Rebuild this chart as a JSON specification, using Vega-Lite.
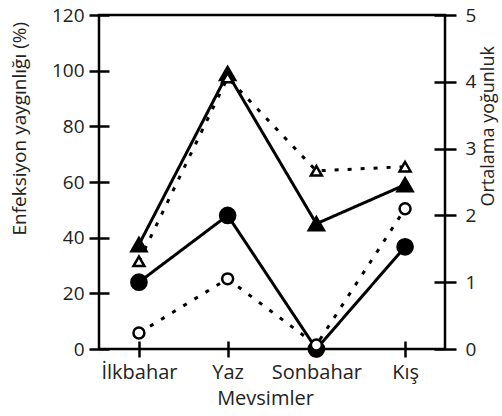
{
  "$schema": "https://vega.github.io/schema/vega-lite/v6.json",
  "width": 346,
  "height": 334,
  "autosize": {"type": "none"},
  "padding": {"left": 99, "top": 15, "right": 57, "bottom": 67},
  "background": "white",
  "config": {
    "view": {"stroke": "black", "strokeWidth": 2.5},
    "font": "Open Sans",
    "axis": {
      "grid": false, "domain": false, "tickColor": "black", "tickWidth": 2.5,
      "labelColor": "#222", "labelFontSize": 19, "labelFont": "Open Sans",
      "titleFontSize": 19, "titleFontWeight": "normal", "titleColor": "#222", "titleFont": "Open Sans"
    }
  },
  "data": {
    "values": [
      {"season": "İlkbahar", "kind": "p", "fill": "dolu", "value": 37.5},
      {"season": "Yaz", "kind": "p", "fill": "dolu", "value": 99},
      {"season": "Sonbahar", "kind": "p", "fill": "dolu", "value": 45},
      {"season": "Kış", "kind": "p", "fill": "dolu", "value": 59},
      {"season": "İlkbahar", "kind": "p", "fill": "boş", "value": 31.5},
      {"season": "Yaz", "kind": "p", "fill": "boş", "value": 97.5},
      {"season": "Sonbahar", "kind": "p", "fill": "boş", "value": 64},
      {"season": "Kış", "kind": "p", "fill": "boş", "value": 65.5},
      {"season": "İlkbahar", "kind": "d", "fill": "dolu", "value": 1.0},
      {"season": "Yaz", "kind": "d", "fill": "dolu", "value": 2.0},
      {"season": "Sonbahar", "kind": "d", "fill": "dolu", "value": 0},
      {"season": "Kış", "kind": "d", "fill": "dolu", "value": 1.53},
      {"season": "İlkbahar", "kind": "d", "fill": "boş", "value": 0.24},
      {"season": "Yaz", "kind": "d", "fill": "boş", "value": 1.05},
      {"season": "Sonbahar", "kind": "d", "fill": "boş", "value": 0.06},
      {"season": "Kış", "kind": "d", "fill": "boş", "value": 2.1}
    ]
  },
  "encoding": {
    "x": {
      "field": "season", "type": "ordinal",
      "sort": ["İlkbahar", "Yaz", "Sonbahar", "Kış"],
      "scale": {"type": "point", "padding": 0.45},
      "axis": {
        "labelAngle": 0, "labelFontSize": 20, "tickSize": 16, "offset": -8, "labelPadding": 5,
        "title": "Mevsimler", "titleFontSize": 20, "titleX": 166, "titleY": 47, "titleBaseline": "top", "titleAlign": "center"
      }
    }
  },
  "layer": [
    {
      "transform": [{"filter": "datum.kind === 'p'"}],
      "encoding": {
        "y": {
          "field": "value", "type": "quantitative",
          "scale": {"domain": [0, 120]},
          "axis": {
            "orient": "left", "values": [0, 20, 40, 60, 80, 100, 120],
            "tickSize": 20, "offset": -10, "labelPadding": 5,
            "title": "Enfeksiyon yaygınlığı (%)", "titleAngle": 270, "titleAlign": "left",
            "titleBaseline": "middle", "titleX": -90, "titleY": 220
          }
        }
      },
      "layer": [
        {
          "mark": {"type": "line", "color": "black", "strokeWidth": 3},
          "encoding": {
            "detail": {"field": "fill"},
            "strokeDash": {"field": "fill", "type": "nominal", "scale": {"domain": ["dolu", "boş"], "range": [[1, 0], [4, 9]]}, "legend": null}
          }
        },
        {
          "mark": {"type": "point", "shape": "triangle-up", "filled": true, "opacity": 1, "stroke": "black", "strokeWidth": 2.5},
          "encoding": {
            "fill": {"field": "fill", "type": "nominal", "scale": {"domain": ["dolu", "boş"], "range": ["black", "white"]}, "legend": null},
            "size": {"field": "fill", "type": "nominal", "scale": {"domain": ["dolu", "boş"], "range": [230, 120]}, "legend": null}
          }
        }
      ]
    },
    {
      "transform": [{"filter": "datum.kind === 'd'"}],
      "encoding": {
        "y": {
          "field": "value", "type": "quantitative",
          "scale": {"domain": [0, 5]},
          "axis": {
            "orient": "right", "values": [0, 1, 2, 3, 4, 5],
            "tickSize": 22, "offset": -11, "labelPadding": 9,
            "title": "Ortalama yoğunluk", "titleFontSize": 18, "titleAngle": 270, "titleAlign": "left",
            "titleBaseline": "middle", "titleX": 54, "titleY": 191
          }
        }
      },
      "layer": [
        {
          "mark": {"type": "line", "color": "black", "strokeWidth": 3},
          "encoding": {
            "detail": {"field": "fill"},
            "strokeDash": {"field": "fill", "type": "nominal", "scale": {"domain": ["dolu", "boş"], "range": [[1, 0], [4, 9]]}, "legend": null}
          }
        },
        {
          "mark": {"type": "point", "shape": "circle", "filled": true, "opacity": 1, "stroke": "black", "strokeWidth": 2.5},
          "encoding": {
            "fill": {"field": "fill", "type": "nominal", "scale": {"domain": ["dolu", "boş"], "range": ["black", "white"]}, "legend": null},
            "size": {"field": "fill", "type": "nominal", "scale": {"domain": ["dolu", "boş"], "range": [200, 100]}, "legend": null}
          }
        }
      ]
    }
  ],
  "resolve": {"scale": {"y": "independent"}}
}
